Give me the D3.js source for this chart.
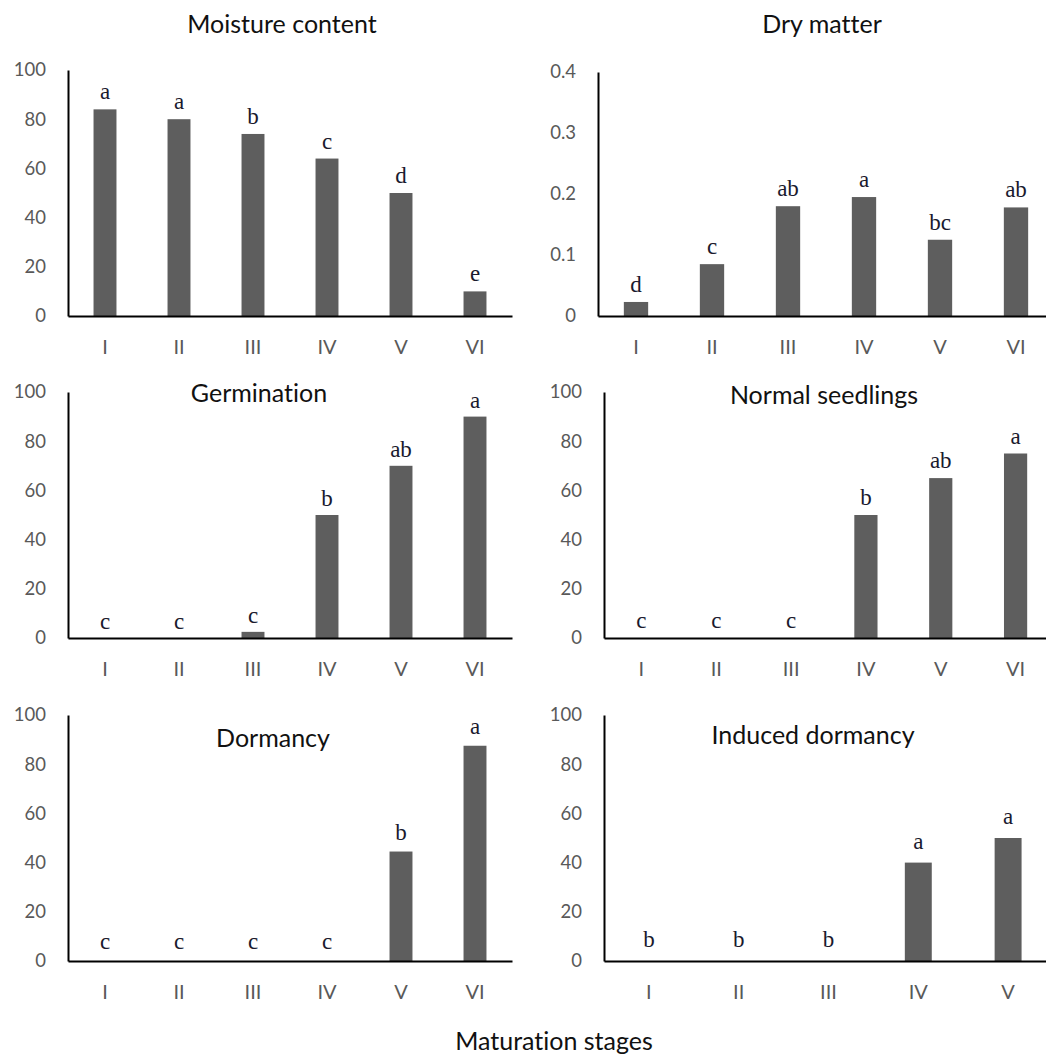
<!DOCTYPE html>
<html lang="en">
<head>
<meta charset="utf-8">
<title>Maturation stages</title>
<script src="https://cdn.jsdelivr.net/npm/d3@7"></script>
<style>
  body { margin: 0; background: #fff; }
  text { font-variant-ligatures: none; }
  .title { font-family: Lato, sans-serif; font-size: 25px; fill: #111; }
  .tick text { font-family: Lato, sans-serif; fill: #595959; }
  .letter { font-family: "Liberation Serif", serif; font-size: 23px; fill: #1a1a2e; }
  .bar { fill: #5e5e5e; }
  .domain { stroke: #000; stroke-width: 2px; }
</style>
</head>
<body>
<div id="chart"></div>
<script>
var width = 1046, height = 1054;

// data
var stages = ["I", "II", "III", "IV", "V", "VI"];
var stagesInduced = ["I", "II", "III", "IV", "V"];

var moisture = [84, 80, 74, 64, 50, 10];
var moistureLetters = ["a", "a", "b", "c", "d", "e"];

var dryMatter = [0.023, 0.085, 0.18, 0.195, 0.125, 0.178];
var dryLetters = ["d", "c", "ab", "a", "bc", "ab"];

var germination = [0, 0, 2.5, 50, 70, 90];
var germLetters = ["c", "c", "c", "b", "ab", "a"];

var normalSeedlings = [0, 0, 0, 50, 65, 75];
var normalLetters = ["c", "c", "c", "b", "ab", "a"];

var dormancy = [0, 0, 0, 0, 44.5, 87.5];
var dormLetters = ["c", "c", "c", "c", "b", "a"];

var inducedDormancy = [0, 0, 0, 40, 50];
var inducedLetters = ["b", "b", "b", "a", "a"];

var percentTicks = [0, 20, 40, 60, 80, 100];
var dryTicks = [0, 0.1, 0.2, 0.3, 0.4];

// panel layout
var panels = [
  { title: "Moisture content", cats: stages, values: moisture, letters: moistureLetters,
    max: 100, ticks: percentTicks, x0: 68, x1: 512, top: 70, base: 316, pad: 0.69,
    tx: 282, ty: 33, gap: 10 },
  { title: "Dry matter", cats: stages, values: dryMatter, letters: dryLetters,
    max: 0.4, ticks: dryTicks, x0: 598, x1: 1054, top: 72, base: 316, pad: 0.68,
    tx: 822, ty: 33, gap: 10 },
  { title: "Germination", cats: stages, values: germination, letters: germLetters,
    max: 100, ticks: percentTicks, x0: 68, x1: 512, top: 392, base: 638, pad: 0.69,
    tx: 259, ty: 402, gap: 9 },
  { title: "Normal seedlings", cats: stages, values: normalSeedlings, letters: normalLetters,
    max: 100, ticks: percentTicks, x0: 604, x1: 1053, top: 392, base: 638, pad: 0.69,
    tx: 824, ty: 404, gap: 10 },
  { title: "Dormancy", cats: stages, values: dormancy, letters: dormLetters,
    max: 100, ticks: percentTicks, x0: 68, x1: 512, top: 715, base: 961, pad: 0.69,
    tx: 273, ty: 747, gap: 12 },
  { title: "Induced dormancy", cats: stagesInduced, values: inducedDormancy, letters: inducedLetters,
    max: 100, ticks: percentTicks, x0: 604, x1: 1053, top: 715, base: 961, pad: 0.70,
    tx: 813, ty: 744, gap: 14 }
];

var svg = d3.select("#chart")
  .append("svg")
  .attr("width", width)
  .attr("height", height);

panels.forEach(function (p) {
  var g = svg.append("g");

  var x = d3.scaleBand()
    .domain(p.cats)
    .range([p.x0, p.x1])
    .paddingInner(p.pad)
    .paddingOuter(p.pad / 2);

  var y = d3.scaleLinear()
    .domain([0, p.max])
    .range([p.base, p.top]);

  var rows = p.cats.map(function (c, i) {
    return { cat: c, value: p.values[i], letter: p.letters[i] };
  });

  g.selectAll(".bar")
    .data(rows)
    .enter().append("rect")
    .attr("class", "bar")
    .attr("x", function (d) { return x(d.cat); })
    .attr("width", x.bandwidth())
    .attr("y", function (d) { return y(d.value); })
    .attr("height", function (d) { return p.base - y(d.value); });

  g.append("g")
    .attr("transform", "translate(" + p.x0 + ",0)")
    .call(d3.axisLeft(y)
      .tickValues(p.ticks)
      .tickFormat(function (d) { return String(d); })
      .tickSize(0)
      .tickSizeOuter(0)
      .tickPadding(22))
    .selectAll("text")
    .style("font-size", "18.5px");

  g.append("g")
    .attr("transform", "translate(0," + p.base + ")")
    .call(d3.axisBottom(x)
      .tickSize(0)
      .tickSizeOuter(0)
      .tickPadding(24))
    .selectAll("text")
    .style("font-size", "20px");

  g.selectAll(".letter")
    .data(rows)
    .enter().append("text")
    .attr("class", "letter")
    .attr("text-anchor", "middle")
    .attr("x", function (d) { return x(d.cat) + x.bandwidth() / 2; })
    .attr("y", function (d) { return y(d.value) - p.gap; })
    .text(function (d) { return d.letter; });

  g.append("text")
    .attr("class", "title")
    .attr("text-anchor", "middle")
    .attr("x", p.tx)
    .attr("y", p.ty)
    .text(p.title);
});

svg.append("text")
  .attr("class", "title")
  .attr("text-anchor", "middle")
  .attr("x", 554)
  .attr("y", 1050)
  .text("Maturation stages");
</script>
</body>
</html>
